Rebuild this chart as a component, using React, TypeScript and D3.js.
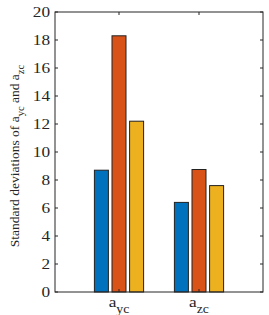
import React from "react";
import * as d3 from "d3";

const categories = ["yc", "zc"];
const series1 = [8.7, 6.4];
const series2 = [18.3, 8.75];
const series3 = [12.2, 7.6];
const yTicks = [0, 2, 4, 6, 8, 10, 12, 14, 16, 18, 20];
const colors = ["#0072BD", "#D95319", "#EDB120"];

export default function App() {
  const W = 269, H = 315;
  const L = 55, R = 263, T = 12, B = 292;
  const x = d3.scaleLinear().domain([0.2, 2.8]).range([L, R]);
  const y = d3.scaleLinear().domain([0, 20]).range([B, T]);
  const series = [series1, series2, series3];
  const offsets = [-0.22, 0, 0.22];
  const bw = 0.175;
  const axisColor = "#262626";
  const font = "'Liberation Serif'";
  return (
    <svg width={W} height={H} style={{ position: "absolute", left: 0, top: 0 }}>
      <rect x={0} y={0} width={W} height={H} fill="#fff" />
      {series.map((s, si) =>
        s.map((v, ci) => {
          const cx = ci + 1 + offsets[si];
          const x0 = x(cx - bw / 2);
          const x1 = x(cx + bw / 2);
          return (
            <rect key={`${si}-${ci}`} x={x0} y={y(v)} width={x1 - x0} height={y(0) - y(v)}
              fill={colors[si]} stroke="#222" strokeWidth={1} />
          );
        })
      )}
      <rect x={L} y={T} width={R - L} height={B - T} fill="none" stroke={axisColor} strokeWidth={1} />
      {yTicks.map((t) => (
        <g key={t}>
          <line x1={L} x2={L + 3} y1={y(t)} y2={y(t)} stroke={axisColor} />
          <line x1={R} x2={R - 3} y1={y(t)} y2={y(t)} stroke={axisColor} />
          <g transform={`translate(${L - 5}, ${y(t)}) scale(1.15, 1)`}>
            <text x={0} y={0} dy="0.35em" textAnchor="end" style={{ fontFamily: font }} fontSize={15} fill={axisColor}>{t}</text>
          </g>
        </g>
      ))}
      {categories.map((c, i) => (
        <g key={c}>
          <line x1={x(i + 1)} x2={x(i + 1)} y1={B} y2={B - 3} stroke={axisColor} />
          <line x1={x(i + 1)} x2={x(i + 1)} y1={T} y2={T + 3} stroke={axisColor} />
          <g transform={`translate(${x(i + 1)}, 307) scale(1.15, 1)`}>
            <text x={0} y={0} textAnchor="middle" style={{ fontFamily: font }} fontSize={15} fill={axisColor}>
              a<tspan fontSize={12} dy={6}>{c}</tspan>
            </text>
          </g>
        </g>
      ))}
      <text transform={`translate(19, 156) rotate(-90)`} textAnchor="middle" style={{ fontFamily: font }} fontSize={13.5} fill={axisColor}>
        Standard deviations of a<tspan fontSize={10.5} dy={5}>yc</tspan><tspan dy={-5}> and a</tspan><tspan fontSize={10.5} dy={5}>zc</tspan>
      </text>
    </svg>
  );
}
